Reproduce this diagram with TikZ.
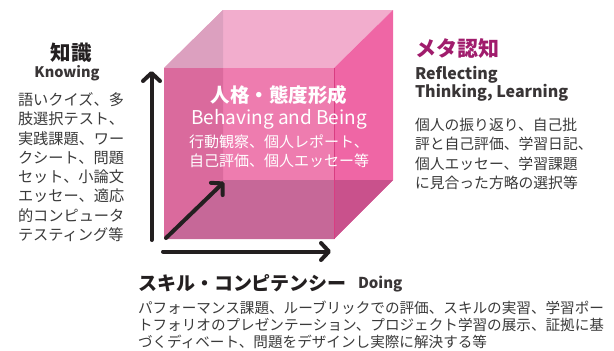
\documentclass[tikz,border=0pt]{standalone}
\usepackage{fontspec}
\setmainfont{Noto Sans CJK JP}
\usetikzlibrary{arrows.meta,positioning}

\definecolor{inkblack}{HTML}{231F20}
\definecolor{bodygray}{HTML}{3A3A3A}
\definecolor{metapink}{HTML}{A01C6C}
\definecolor{topface}{HTML}{F2ADCD}
\definecolor{topleft}{HTML}{DCA0BF}
\definecolor{frontface}{HTML}{EE7CAF}
\definecolor{frontleft}{HTML}{DA6A9D}
\definecolor{frontbottom}{HTML}{C66898}
\definecolor{rightface}{HTML}{EF66A5}
\definecolor{rightbottom}{HTML}{C9518C}
\definecolor{rightedge}{HTML}{D93D82}

\begin{document}
\begin{tikzpicture}[x=1pt,y=-1pt,
every node/.style={inner sep=0pt,outer sep=0pt},
axis/.style={line width=4pt,inkblack,line cap=round,-{Straight Barb[length=8pt,width=17pt,round]}},
bigtitle/.style={font=\fontsize{19}{21}\selectfont\bfseries,text=inkblack},
entitle/.style={font=\fontsize{14.5}{17}\selectfont\bfseries,text=inkblack!90,align=left},
bodytext/.style={font=\fontsize{15.2}{19.3}\selectfont,text=bodygray,align=left},
cubetext/.style={text=white,align=center}]
\useasboundingbox (0,0) rectangle (614,351);

% cube corners
\coordinate (F1) at (164,68);
\coordinate (F2) at (334,68);
\coordinate (F3) at (334,239);
\coordinate (F4) at (164,239);
\coordinate (B1) at (223,10);
\coordinate (B2) at (393,10);
\coordinate (B3) at (393,180);
\coordinate (B4) at (223,180);

% faces
\fill[topface] (F1) -- (B1) -- (B2) -- (F2) -- cycle;
\fill[topleft] (F1) -- (B1) -- (223,68) -- cycle;
\fill[rightface] (F2) -- (B2) -- (B3) -- (F3) -- cycle;
\fill[rightbottom] (334,180) -- (B3) -- (F3) -- cycle;
\fill[frontface] (F1) rectangle (F3);
\fill[frontleft] (F1) -- (223,68) -- (B4) -- (F4) -- cycle;
\fill[frontbottom] (F4) -- (B4) -- (334,180) -- (F3) -- cycle;
\draw[rightedge,line width=0.8pt] (F2) -- (F3);

% cube text
\node[cubetext,font=\fontsize{19.5}{21}\selectfont\bfseries] (behTitle) at (279,95) {人格・態度形成};
\node[cubetext,font=\fontsize{19}{21}\selectfont] (behEn) at (279,119) {Behaving and Being};
\node[cubetext,font=\fontsize{15}{19}\selectfont] (behBody) at (279,151.5) {行動観察、個人レポート、\\自己評価、個人エッセー等};

% axes
\coordinate (origV) at (151.5,240);
\coordinate (tipV) at (151.5,71);
\coordinate (origH) at (163,251.5);
\coordinate (tipH) at (331,251.5);
\coordinate (origD) at (166,238);
\coordinate (tipD) at (224,182);
\draw[axis] (origV) -- (tipV);
\draw[axis] (origH) -- (tipH);
\draw[axis] (origD) -- (tipD);

% knowing
\node[bigtitle,font=\fontsize{20.5}{22}\selectfont\bfseries] (knowTitle) at (71,53) {知識};
\node[entitle] (knowEn) at (67,73) {Knowing};
\node[bodytext,anchor=base west] (knowBody) at (18,240.5) {語いクイズ、多\\肢選択テスト、\\実践課題、ワー\\クシート、問題\\セット、小論文\\エッセー、適応\\的コンピュータ\\テスティング等};

% reflecting
\node[bigtitle,text=metapink,font=\fontsize{21}{22}\selectfont\bfseries,anchor=west] (metaTitle) at (415,48) {メタ認知};
\node[entitle,font=\fontsize{16}{17}\selectfont\bfseries,anchor=base west] (metaEn) at (415,97.5) {Reflecting\\Thinking, Learning};
\node[bodytext,font=\fontsize{14.8}{19.5}\selectfont,anchor=base west] (metaBody) at (415,188.5) {個人の振り返り、自己批\\評と自己評価、学習日記、\\個人エッセー、学習課題\\に見合った方略の選択等};

% doing
\node[bigtitle,anchor=west] (doTitle) at (138,283) {スキル・コンピテンシー};
\node[entitle,font=\fontsize{15}{17}\selectfont\bfseries,anchor=base west] (doEn) at (358,288) {Doing};
\node[bodytext,font=\fontsize{14.6}{17}\selectfont,anchor=base west] (doBody) at (138,347.5) {パフォーマンス課題、ルーブリックでの評価、スキルの実習、学習ポー\\トフォリオのプレゼンテーション、プロジェクト学習の展示、証拠に基\\づくディベート、問題をデザインし実際に解決する等};
\end{tikzpicture}
\end{document}
